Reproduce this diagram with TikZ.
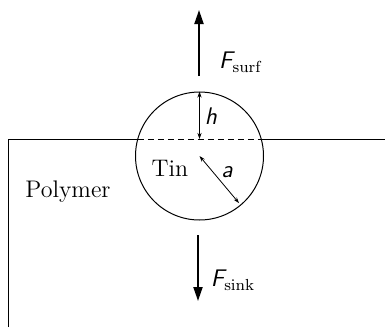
\documentclass[tikz,border=0pt]{standalone}
\usepackage{tikz}
\usetikzlibrary{arrows.meta, positioning}

\begin{document}
\begin{tikzpicture}[
    x=0.5pt, y=-0.5pt,
    word/.style={font=\large},
    sym/.style={font=\large\sffamily\slshape},
    force/.style={-{Triangle[length=7pt, width=4.5pt]}, line width=1pt},
    dim/.style={{Stealth[length=3pt, width=2pt]}-{Stealth[length=3pt, width=2pt]}, line width=0.4pt}
]
\useasboundingbox (0,0) rectangle (385,327);

% Sphere sitting in the surface
\node[circle, draw, line width=0.5pt, minimum size=64pt, inner sep=0pt] (tin) at (199.5,156) {};
\coordinate (left) at (137.8,139);
\coordinate (right) at (261.2,139);
\coordinate (hbase) at (199.5,139);

% Polymer surface
\draw[line width=0.5pt] (8,327) -- (8,139) -- (left);
\draw[line width=0.5pt] (right) -- (385,139);
\draw[line width=0.4pt, dash pattern=on 3pt off 2pt] (left) -- (right);

% Dimensions
\draw[dim] (tin.north) -- (hbase);
\draw[dim, shorten >=1.5pt] (tin.center) -- (tin.-50);

% Forces
\coordinate (surftail) at (199,76);
\coordinate (surfhead) at (199,10);
\coordinate (sinktail) at (198,235);
\coordinate (sinkhead) at (198,301);
\draw[force] (surftail) -- (surfhead);
\draw[force] (sinktail) -- (sinkhead);

% Labels
\node[word] (tinlabel) at (170,168) {Tin};
\node[word] (polymer) at (68,192) {Polymer};
\node[sym] (alabel) at (227,172) {a};
\node[sym] (hlabel) at (211,116) {h};
\node[sym] (fsurf) at (241,62) {F$_{\mathrm{surf}}$};
\node[sym] (fsink) at (233,280) {F$_{\mathrm{sink}}$};

\end{tikzpicture}
\end{document}
